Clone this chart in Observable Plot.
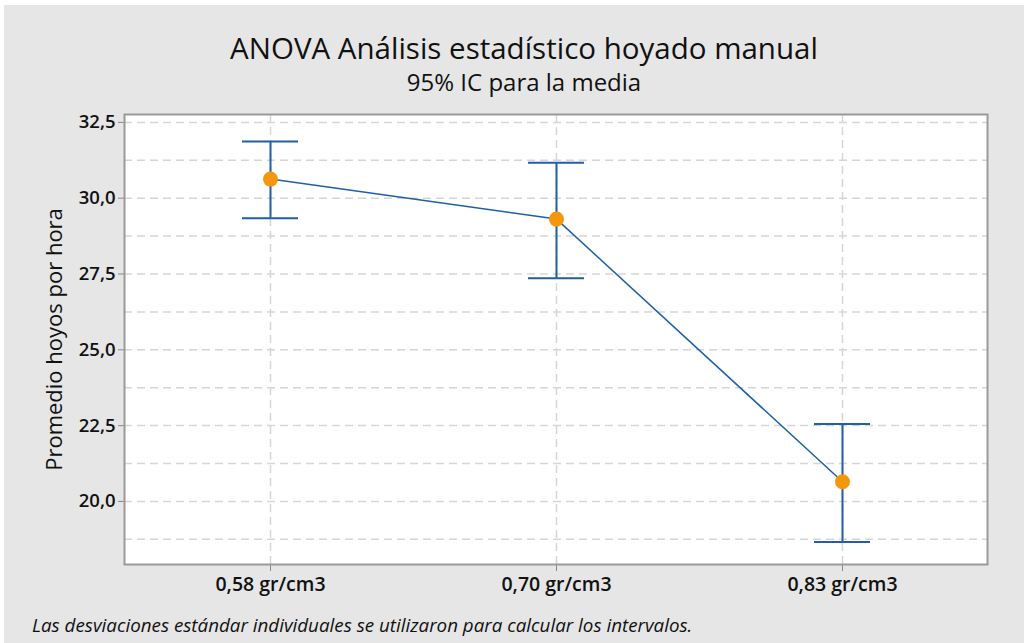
<!DOCTYPE html>
<html>
<head>
<meta charset="utf-8">
<script src="https://cdn.jsdelivr.net/npm/d3@7"></script>
<script src="https://cdn.jsdelivr.net/npm/@observablehq/plot@0.6"></script>
<style>
  html, body { margin: 0; padding: 0; background: #ffffff; width: 1024px; height: 643px; overflow: hidden; }
  #panel { position: absolute; left: 4px; top: 5px; width: 1020px; height: 638px; background: #e6e6e6; }
  .t { position: absolute; white-space: nowrap; font-family: "Open Sans", sans-serif; color: #111; }
  #title { left: 0; width: 1048px; text-align: center; top: 29px; line-height: 38px; font-size: 29.5px; }
  #subtitle { left: 0; width: 1048px; text-align: center; top: 67px; line-height: 30px; font-size: 24px; }
  #caption { left: 32px; top: 612px; line-height: 26px; font-size: 18.8px; font-style: italic; }
  #chart { position: absolute; left: 0; top: 100px; }
</style>
</head>
<body>
<div id="panel"></div>
<div class="t" id="title">ANOVA Análisis estadístico hoyado manual</div>
<div class="t" id="subtitle">95% IC para la media</div>
<div id="chart"></div>
<div class="t" id="caption">Las desviaciones estándar individuales se utilizaron para calcular los intervalos.</div>
<script>
const categories = ["0,58 gr/cm3", "0,70 gr/cm3", "0,83 gr/cm3"];
const means = [30.63, 29.31, 20.65];
const lower = [29.34, 27.36, 18.66];
const upper = [31.87, 31.17, 22.55];
const yTicks = [20, 22.5, 25, 27.5, 30, 32.5];
const gridValues = [18.75, 20, 21.25, 22.5, 23.75, 25, 26.25, 27.5, 28.75, 30, 31.25, 32.5];
const yLabel = "Promedio hoyos por hora";

const data = categories.map((c, i) => ({cat: c, mean: means[i], lo: lower[i], hi: upper[i]}));

const blue = "#1f5fa6";
const orange = "#f5960f";
const gridColor = "#d6d6d6";

const chart = Plot.plot({
  width: 1024,
  height: 500,
  marginTop: 14,
  marginBottom: 36,
  marginLeft: 124,
  marginRight: 37,
  style: {background: "transparent", fontFamily: "'Open Sans', sans-serif", fontSize: "19px", color: "#111"},
  x: {type: "band", domain: categories, paddingInner: 0.805, paddingOuter: 0.41, label: null},
  y: {domain: [17.92, 32.76], label: null},
  marks: [
    Plot.frame({fill: "white"}),
    Plot.ruleY(gridValues, {stroke: gridColor, strokeWidth: 1.5, strokeDasharray: "8,5"}),
    Plot.ruleX(categories, {x: d => d, stroke: gridColor, strokeWidth: 1.5, strokeDasharray: "8,5"}),
    Plot.axisY({ticks: yTicks, tickSize: 6, tickPadding: 3, stroke: "#888", tickFormat: d => d.toFixed(1).replace(".", ","), fontWeight: 600, fontSize: 18.5, label: null}),
    Plot.axisX({tickSize: 7, tickPadding: 6, stroke: "#888", fontWeight: 600, fontSize: 19.5, label: null}),
    Plot.frame({stroke: "#9a9a9a", strokeWidth: 2}),
    Plot.ruleX(data, {x: "cat", y1: "lo", y2: "hi", stroke: blue, strokeWidth: 2}),
    Plot.tickY(data, {x: "cat", y: "lo", stroke: blue, strokeWidth: 2}),
    Plot.tickY(data, {x: "cat", y: "hi", stroke: blue, strokeWidth: 2}),
    Plot.line(data, {x: "cat", y: "mean", stroke: blue, strokeWidth: 1.5}),
    Plot.dot(data, {x: "cat", y: "mean", r: 7.5, fill: orange, stroke: "none"}),
    Plot.text([yLabel], {frameAnchor: "left", text: d => d, rotate: -90, dx: -70, textAnchor: "middle", fontSize: 22, fill: "#111"})
  ]
});
document.getElementById("chart").appendChild(chart);
</script>
</body>
</html>
